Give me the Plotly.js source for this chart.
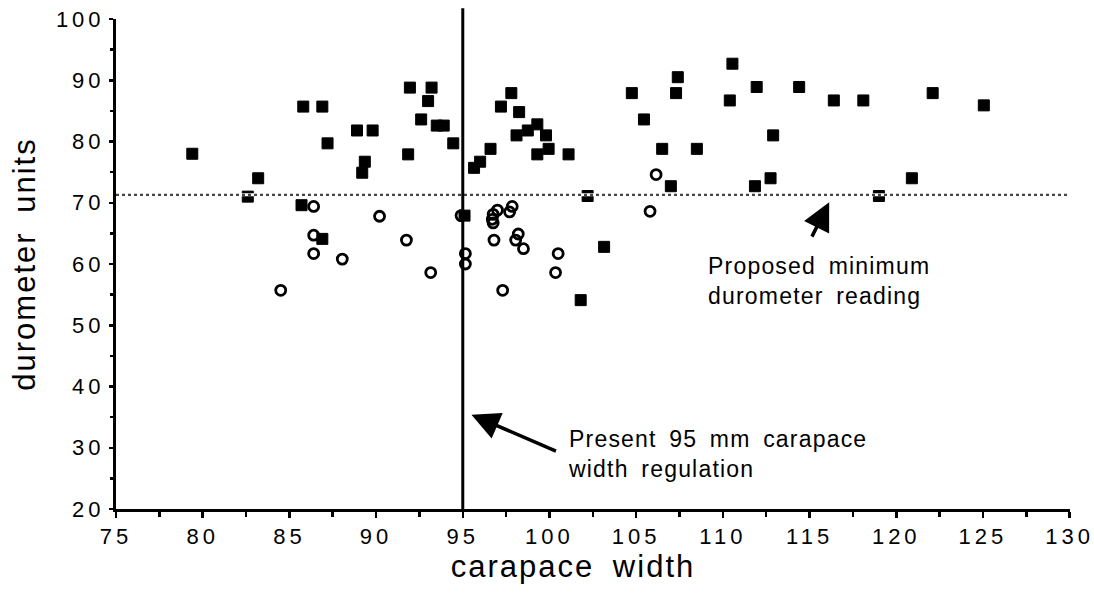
<!DOCTYPE html>
<html>
<head>
<meta charset="utf-8">
<script src="https://cdn.plot.ly/plotly-3.0.1.min.js"></script>
<style>
  html, body { margin: 0; padding: 0; background: #fff; }
  #chart { width: 1094px; height: 601px; }
  .xtick text, .ytick text { letter-spacing: 4px; }
  .xtitle, .ytitle { letter-spacing: 2px; word-spacing: 8px; }
  .xtitle { transform: translate(-20px, 0px); }
  .annotation-text { letter-spacing: 1.2px; word-spacing: 5px; }
</style>
</head>
<body>
<div id="chart"></div>
<script>
// Filled squares
const squareX = [79.4, 83.2, 82.6, 85.7, 86.9, 85.8, 86.9, 87.2, 88.9, 89.8,
  89.35, 89.2, 91.95, 93.2, 93.0, 92.6, 93.5, 93.9, 91.85, 94.45,
  95.1, 95.65, 96.0, 96.6, 97.2, 97.8, 98.25, 98.1, 98.75, 99.3,
  99.8, 99.95, 99.3, 101.1, 102.2, 101.8, 103.15, 104.75, 105.45, 106.5,
  107.3, 107.4, 108.5, 107.0, 110.4, 110.55, 111.95, 111.85, 112.75, 112.9,
  114.4, 116.4, 118.1, 119.0, 120.9, 122.1, 125.05];
const squareY = [78.0, 74.0, 71.0, 69.6, 64.1, 85.7, 85.7, 79.7, 81.8, 81.8,
  76.7, 74.9, 88.8, 88.8, 86.6, 83.6, 82.6, 82.6, 77.9, 79.7,
  67.9, 75.7, 76.7, 78.8, 85.7, 87.9, 84.8, 81.0, 81.8, 82.8,
  81.0, 78.8, 77.9, 77.9, 71.1, 54.1, 62.8, 87.9, 83.6, 78.8,
  87.9, 90.5, 78.8, 72.7, 86.7, 92.7, 88.9, 72.7, 74.0, 81.0,
  88.9, 86.7, 86.7, 71.1, 74.0, 87.9, 85.9];

// Open circles
const circleX = [86.4, 86.4, 86.4, 88.05, 84.5, 90.2, 91.75, 93.15, 94.9, 95.15,
  95.15, 96.8, 97.0, 96.75, 96.7, 96.75, 97.85, 97.7, 98.2, 98.05,
  98.5, 97.3, 100.5, 100.35, 106.15, 105.8];
const circleY = [69.4, 64.7, 61.7, 60.8, 55.7, 67.8, 63.9, 58.6, 67.9, 61.7,
  60.0, 63.9, 68.8, 68.1, 67.3, 66.7, 69.4, 68.5, 64.9, 63.9,
  62.5, 55.7, 61.7, 58.6, 74.6, 68.6];

// Reference values
const regulationWidth = 95;
const minimumDurometer = 71.3;

const xTicks = [75, 80, 85, 90, 95, 100, 105, 110, 115, 120, 125, 130];
const yTicks = [20, 30, 40, 50, 60, 70, 80, 90, 100];

const FONT = '"Liberation Sans", Arial, Helvetica, sans-serif';

const traces = [
  {
    type: 'scatter', mode: 'markers', x: squareX, y: squareY,
    marker: { symbol: 'square', size: 11, color: '#000', line: { color: '#000', width: 1 } },
    hoverinfo: 'x+y', showlegend: false
  },
  {
    type: 'scatter', mode: 'markers', x: circleX, y: circleY,
    marker: { symbol: 'circle-open', size: 10, color: '#000', line: { color: '#000', width: 2.8 } },
    hoverinfo: 'x+y', showlegend: false
  }
];

const layout = {
  width: 1094, height: 601,
  margin: { l: 116, r: 24, t: 19, b: 92 },
  paper_bgcolor: '#fff', plot_bgcolor: '#fff',
  font: { family: FONT, color: '#000' },
  showlegend: false,
  xaxis: {
    range: [75, 130.02], tickvals: xTicks, ticktext: xTicks.map(String),
    showgrid: false, zeroline: false,
    showline: true, linecolor: '#000', linewidth: 3,
    ticks: 'outside', ticklen: 6, tickwidth: 2.5, tickcolor: '#000',
    minor: { dtick: 2.5, tick0: 75, ticks: 'outside', ticklen: 5, tickwidth: 2.5, tickcolor: '#000', showgrid: false },
    tickfont: { family: FONT, size: 22, color: '#000' },
    ticklabeloverflow: 'allow',
    title: { text: 'carapace width', font: { family: FONT, size: 31, color: '#000' }, standoff: 6 },
    automargin: false, fixedrange: true
  },
  yaxis: {
    range: [20, 100], tickvals: yTicks, ticktext: yTicks.map(String),
    showgrid: false, zeroline: false,
    showline: true, linecolor: '#000', linewidth: 3,
    ticks: 'outside', ticklen: 4, tickwidth: 2.5, tickcolor: '#000',
    minor: { dtick: 5, tick0: 20, ticks: 'outside', ticklen: 3, tickwidth: 2.5, tickcolor: '#000', showgrid: false },
    tickfont: { family: FONT, size: 22, color: '#000' },
    ticklabeloverflow: 'allow',
    title: { text: 'durometer units', font: { family: FONT, size: 31, color: '#000' }, standoff: 12 },
    automargin: false, fixedrange: true
  },
  shapes: [
    { type: 'line', xref: 'paper', yref: 'y', x0: 0, x1: 1, y0: minimumDurometer, y1: minimumDurometer,
      line: { color: '#fff', width: 3 }, layer: 'above' },
    { type: 'line', xref: 'paper', yref: 'y', x0: 0, x1: 1, y0: minimumDurometer, y1: minimumDurometer,
      line: { color: '#444', width: 2.2, dash: 'dot' }, layer: 'above' },
    { type: 'line', xref: 'x', yref: 'paper', x0: regulationWidth, x1: regulationWidth, y0: 0, y1: 1.022,
      line: { color: '#000', width: 3 }, layer: 'above' }
  ],
  annotations: [
    { x: 95.5, y: 35.4, xref: 'x', yref: 'y', ax: 86, ay: 37, axref: 'pixel', ayref: 'pixel',
      text: '', showarrow: true, arrowhead: 2, arrowsize: 1.6, arrowwidth: 3.5, arrowcolor: '#000' },
    { x: 116.13, y: 70.1, xref: 'x', yref: 'y', ax: -18, ay: 36, axref: 'pixel', ayref: 'pixel',
      text: '', showarrow: true, arrowhead: 2, arrowsize: 1.6, arrowwidth: 3.5, arrowcolor: '#000' },
    { x: 100.98, y: 29.05, xref: 'x', yref: 'y', xanchor: 'left', yanchor: 'middle', align: 'left',
      text: 'Present 95 mm carapace<br>width regulation', showarrow: false,
      font: { family: FONT, size: 23, color: '#000' } },
    { x: 109.02, y: 57.2, xref: 'x', yref: 'y', xanchor: 'left', yanchor: 'middle', align: 'left',
      text: 'Proposed minimum<br>durometer reading', showarrow: false,
      font: { family: FONT, size: 23, color: '#000' } }
  ]
};

Plotly.newPlot('chart', traces, layout, { displayModeBar: false, staticPlot: true });
</script>
</body>
</html>
